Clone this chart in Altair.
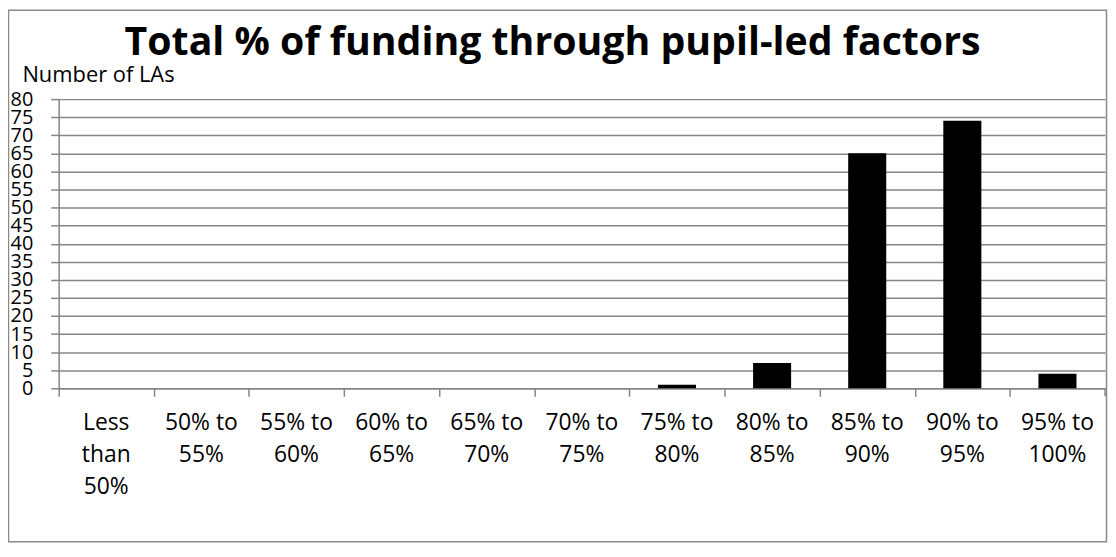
import altair as alt
import pandas as pd

categories = ["Less than 50%", "50% to 55%", "55% to 60%", "60% to 65%", "65% to 70%",
              "70% to 75%", "75% to 80%", "80% to 85%", "85% to 90%", "90% to 95%", "95% to 100%"]
counts = [0, 0, 0, 0, 0, 0, 1, 7, 65, 74, 4]
y_ticks = [0, 5, 10, 15, 20, 25, 30, 35, 40, 45, 50, 55, 60, 65, 70, 75, 80]

# wrapped category labels (as the reference shows them)
line1, line2, line3 = [], [], []
for c in categories:
    if c.startswith("Less"):
        parts = c.split(" ")
        line1.append(parts[0]); line2.append(parts[1]); line3.append(parts[2])
    else:
        a, b = c.split(" to ")
        line1.append(a + " to"); line2.append(b); line3.append("")

df = pd.DataFrame({"band": categories, "n": counts})
lab = pd.DataFrame({"band": categories, "l1": line1, "l2": line2, "l3": line3})
one = pd.DataFrame({"k": [0]})

W, H = 1053, 291
FONT = "Open Sans"
GRAY = "#868686"
STEP = W / len(categories)

xenc = alt.X("band:N", sort=categories, title=None,
             scale=alt.Scale(paddingInner=0.6, paddingOuter=0.3),
             axis=alt.Axis(labels=False, tickOffset=-STEP / 2, tickSize=8, tickColor=GRAY,
                           tickWidth=1.5, domainColor=GRAY, domainWidth=1.5, grid=False))

bars = alt.Chart(df).mark_bar(color="black").encode(
    x=xenc,
    y=alt.Y("n:Q", scale=alt.Scale(domain=[0, 80], nice=False),
            axis=alt.Axis(values=y_ticks, title="Number of LAs", titleAngle=0, titleAlign="left",
                          titleBaseline="alphabetic", titleX=-37, titleY=-18, titleFont=FONT,
                          titleFontSize=22, titleFontWeight="normal", titleColor="black",
                          labelFont=FONT, labelFontSize=20, labelColor="black", labelPadding=18,
                          labelOverlap=False,
                          tickSize=8, tickColor=GRAY, tickWidth=1.5,
                          domainColor=GRAY, domainWidth=1.5,
                          gridColor=GRAY, gridWidth=1.5))
)

def label_layer(field, ypos):
    return alt.Chart(lab).mark_text(font=FONT, fontSize=23, color="black", align="center",
                                    baseline="alphabetic").encode(
        x=xenc, y=alt.value(ypos), text=alt.Text(f"{field}:N"))

labels = [label_layer("l1", 333), label_layer("l2", 365), label_layer("l3", 397)]

end_tick = alt.Chart(one).mark_rule(color=GRAY, strokeWidth=1.5).encode(
    x=alt.value(W), y=alt.value(H), y2=alt.value(H + 8))

border = alt.Chart(one).mark_rect(fillOpacity=0, stroke="#8a8a8a", strokeWidth=1.5).encode(
    x=alt.value(-50.5), x2=alt.value(1054.5), y=alt.value(-89.5), y2=alt.value(445.5))

chart = alt.layer(border, bars, *labels, end_tick).properties(
    width=W, height=H,
    padding={"left": 51, "top": 90, "right": 3, "bottom": 155},
    autosize=alt.AutoSizeParams(type="none"),
    background="white",
    title=alt.TitleParams("Total % of funding through pupil-led factors", font=FONT,
                          fontSize=39.5, fontWeight="bold", color="black",
                          anchor="middle", frame="group", dx=-29.5, dy=58),
).configure_view(strokeWidth=0)

chart.save("out.html", embed_options={"renderer": "svg", "actions": False})
